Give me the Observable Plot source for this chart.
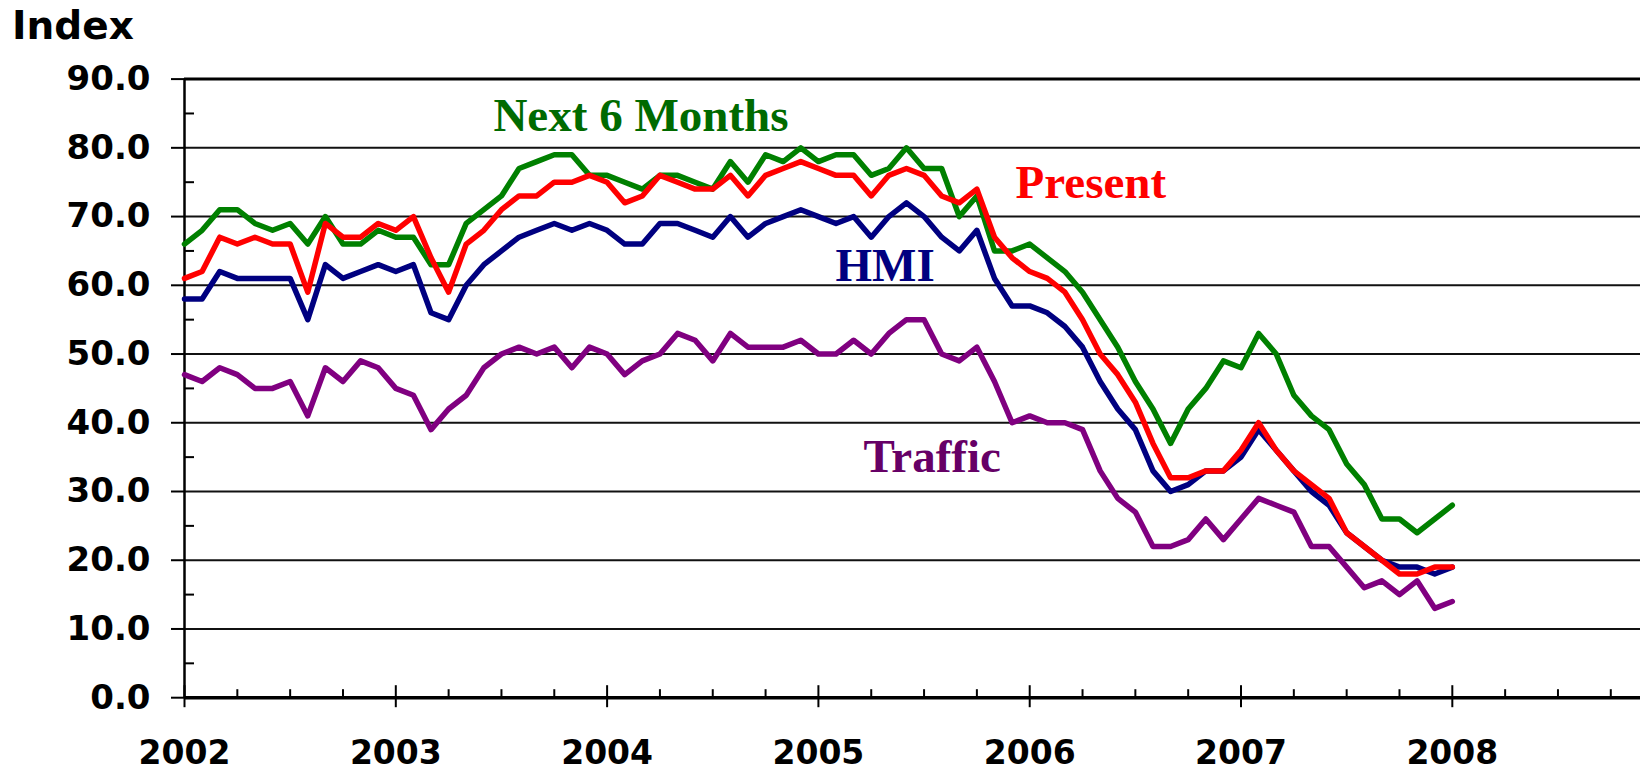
<!DOCTYPE html>
<html>
<head>
<meta charset="utf-8">
<script src="https://cdn.jsdelivr.net/npm/d3@7"></script>
<script src="https://cdn.jsdelivr.net/npm/@observablehq/plot@0.6"></script>
<style>
  html, body { margin: 0; padding: 0; background: #fff; }
  #title { font: bold 39px "DejaVu Sans", sans-serif; height: 50px; line-height: 52px; padding-left: 12px; color: #000; overflow: visible; }
  #chart svg { display: block; }
</style>
</head>
<body>
<div id="title">Index</div>
<div id="chart"></div>
<script>
// Monthly data, January 2002 to January 2008
const startYear = 2002;

const nextSixMonths = [
  66, 68, 71, 71, 69, 68, 69, 66, 70, 66, 66, 68,
  67, 67, 63, 63, 69, 71, 73, 77, 78, 79, 79, 76,
  76, 75, 74, 76, 76, 75, 74, 78, 75, 79, 78, 80,
  78, 79, 79, 76, 77, 80, 77, 77, 70, 73, 65, 65,
  66, 64, 62, 59, 55, 51, 46, 42, 37, 42, 45, 49,
  48, 53, 50, 44, 41, 39, 34, 31, 26, 26, 24, 26,
  28
];

const present = [
  61, 62, 67, 66, 67, 66, 66, 59, 69, 67, 67, 69,
  68, 70, 64, 59, 66, 68, 71, 73, 73, 75, 75, 76,
  75, 72, 73, 76, 75, 74, 74, 76, 73, 76, 77, 78,
  77, 76, 76, 73, 76, 77, 76, 73, 72, 74, 67, 64,
  62, 61, 59, 55, 50, 47, 43, 37, 32, 32, 33, 33,
  36, 40, 36, 33, 31, 29, 24, 22, 20, 18, 18, 19,
  19
];

const hmi = [
  58, 58, 62, 61, 61, 61, 61, 55, 63, 61, 62, 63,
  62, 63, 56, 55, 60, 63, 65, 67, 68, 69, 68, 69,
  68, 66, 66, 69, 69, 68, 67, 70, 67, 69, 70, 71,
  70, 69, 70, 67, 70, 72, 70, 67, 65, 68, 61, 57,
  57, 56, 54, 51, 46, 42, 39, 33, 30, 31, 33, 33,
  35, 39, 36, 33, 30, 28, 24, 22, 20, 19, 19, 18,
  19
];

const traffic = [
  47, 46, 48, 47, 45, 45, 46, 41, 48, 46, 49, 48,
  45, 44, 39, 42, 44, 48, 50, 51, 50, 51, 48, 51,
  50, 47, 49, 50, 53, 52, 49, 53, 51, 51, 51, 52,
  50, 50, 52, 50, 53, 55, 55, 50, 49, 51, 46, 40,
  41, 40, 40, 39, 33, 29, 27, 22, 22, 23, 26, 23,
  26, 29, 28, 27, 22, 22, 19, 16, 17, 15, 17, 13,
  14
];

// Draw order (bottom to top)
const seriesNames  = ["Traffic", "HMI", "Next 6 Months", "Present"];
const seriesValues = [traffic, hmi, nextSixMonths, present];
const lineColors   = ["#800080", "#000080", "#008000", "#FF0000"];

// Direct labels
const labelTexts  = ["Next 6 Months", "Present", "HMI", "Traffic"];
const labelX      = [2003.462, 2005.933, 2005.081, 2005.213];
const labelY      = [82.5, 72.7, 60.6, 32.8];
const labelColors = ["#006a00", "#FF0000", "#000080", "#660066"];

// Ticks
const yTicks = [0, 10, 20, 30, 40, 50, 60, 70, 80, 90];
const yGrid = [10, 20, 30, 40, 50, 60, 70, 80];
const yMinor = [5, 15, 25, 35, 45, 55, 65, 75, 85];
const xYears = [2002, 2003, 2004, 2005, 2006, 2007, 2008];
const xQuarters = d3.range(2002, 2009).flatMap(y => [y + 0.25, y + 0.5, y + 0.75]);
const xDomain = [2002, 2008.8906];

const rows = seriesNames.map((name, k) =>
  seriesValues[k].map((v, i) => ({series: name, t: startYear + i / 12, v}))
);

const axisFont = {fontWeight: "bold", fontFamily: "DejaVu Sans"};

const chart = Plot.plot({
  width: 1640,
  height: 722,
  marginLeft: 184,
  marginRight: 0,
  marginTop: 28.6,
  marginBottom: 74.8,
  x: {domain: xDomain, label: null},
  y: {domain: [0, 90], label: null},
  style: {background: "white", overflow: "visible", color: "#000"},
  marks: [
    Plot.gridY(yGrid, {stroke: "#111", strokeOpacity: 1, strokeWidth: 2}),
    Plot.ruleY([90], {stroke: "#000", strokeWidth: 3}),
    Plot.axisY(yTicks, {anchor: "left", tickSize: 13, tickPadding: 21, strokeWidth: 2,
      tickFormat: d3.format(".1f"), label: null, fontSize: 34, ...axisFont}),
    Plot.axisY(yMinor, {anchor: "left", tickSize: -10, strokeWidth: 2, fill: "none", label: null}),
    Plot.ruleX([2002], {stroke: "#000", strokeWidth: 2.5}),
    ...rows.map((data, k) => Plot.line(data, {
      x: "t", y: "v", stroke: lineColors[k], strokeWidth: 5.5,
      strokeLinejoin: "round", strokeLinecap: "round"
    })),
    Plot.ruleY([0], {stroke: "#000", strokeWidth: 3.5}),
    Plot.axisX(xYears, {anchor: "bottom", tickSize: 10, tickPadding: 33, strokeWidth: 2,
      tickFormat: d3.format("d"), label: null, fontSize: 33, ...axisFont}),
    Plot.axisX(xYears, {anchor: "bottom", tickSize: -12, strokeWidth: 2, fill: "none", label: null}),
    Plot.axisX(xQuarters.filter(q => q < xDomain[1]), {anchor: "bottom", tickSize: -8, strokeWidth: 2, fill: "none", label: null}),
    ...labelTexts.map((txt, k) => Plot.text([txt], {
      x: [labelX[k]], y: [labelY[k]], text: d => d,
      fill: labelColors[k], textAnchor: "start", lineAnchor: "bottom",
      fontSize: 47, fontWeight: "bold", fontFamily: "Liberation Serif"
    }))
  ]
});

document.getElementById("chart").appendChild(chart);
</script>
</body>
</html>
